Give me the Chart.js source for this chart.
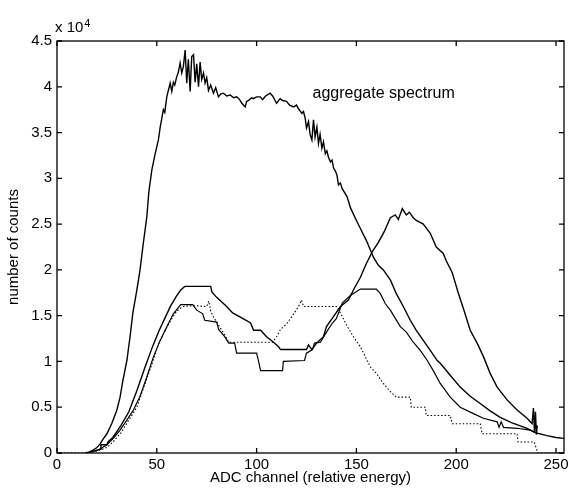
<!DOCTYPE html>
<html>
<head>
<meta charset="utf-8">
<script src="https://cdn.jsdelivr.net/npm/chart.js@4.4.0/dist/chart.umd.min.js"></script>
<style>
    html, body { margin: 0; padding: 0; background: #fff; }
    #contenedor { width: 568px; height: 489px; }
</style>
</head>
<body>
<div id="contenedor"><canvas id="grafico" width="568" height="489"></canvas></div>
<script>
// ticks
const xTicks = [0, 50, 100, 150, 200, 250];
const yTicks = [0, 0.5, 1, 1.5, 2, 2.5, 3, 3.5, 4, 4.5];

// [ADC channel, counts x 10^4]
const agregado = [
    [14, 0], [16, 0.01], [18, 0.03], [20, 0.06], [21.6, 0.1], [23, 0.15], [25, 0.21], [27.4, 0.32],
    [30, 0.47], [31.6, 0.61], [33, 0.79], [35, 1.01], [36.6, 1.27], [38, 1.53], [40, 1.78], [41.6, 2.0],
    [43, 2.25], [45, 2.58], [46, 2.85], [47.5, 3.09], [49, 3.25], [50.8, 3.42], [51.7, 3.56], [53.3, 3.75],
    [54, 3.72], [55, 3.89], [55.8, 3.96], [56.7, 4.04], [57.5, 3.95], [58.3, 4.05], [59, 4.02], [60, 4.11],
    [60.8, 4.16], [61.7, 4.26], [62.5, 4.15], [63.3, 4.22], [64.2, 4.4], [65, 4.04], [65.8, 4.3], [66.7, 3.95],
    [67.5, 4.33], [68.4, 4.35], [69.2, 4.05], [70, 4.25], [70.9, 4.0], [71.7, 4.27], [72.5, 4.08], [73.4, 4.15],
    [74.2, 4.04], [75, 4.1], [75.9, 3.96], [77, 4.02], [78.4, 3.93], [79.5, 3.99], [80.9, 3.89], [82, 3.92],
    [83.4, 3.93], [85, 3.9], [86.8, 3.91], [88.5, 3.88], [90, 3.89], [91.5, 3.86], [92.6, 3.82], [94.3, 3.78],
    [95, 3.84], [96, 3.85], [97.5, 3.88], [98.4, 3.87], [100, 3.89], [101.8, 3.89], [103, 3.86], [104.5, 3.9],
    [106.8, 3.93], [108, 3.9], [110, 3.82], [111.8, 3.87], [113, 3.85], [115, 3.84], [116.5, 3.8], [118.5, 3.78],
    [120, 3.8], [121, 3.76], [122.7, 3.71], [123.5, 3.73], [124.4, 3.65], [125, 3.55], [126, 3.62], [126.8, 3.48],
    [127.7, 3.42], [128.5, 3.64], [129.3, 3.45], [130.2, 3.56], [131, 3.38], [131.8, 3.48], [132.7, 3.33], [133.5, 3.4],
    [134.4, 3.27], [135.2, 3.3], [136, 3.23], [137, 3.18], [137.8, 3.2], [138.6, 3.11], [139.5, 3.08], [140.3, 3.03],
    [141, 2.93], [142, 2.95], [142.8, 2.89], [145.3, 2.8], [147, 2.68], [150, 2.54], [152.5, 2.43], [155, 2.32],
    [158.5, 2.14], [161, 2.05], [163.5, 2.0], [167, 1.89], [170, 1.74], [173.5, 1.6], [177, 1.45], [180, 1.34],
    [183.5, 1.23], [187, 1.12], [190.5, 1.01], [192, 0.98], [197, 0.85], [202, 0.72], [207, 0.62], [212, 0.54],
    [217, 0.46], [222, 0.39], [228, 0.33], [235.5, 0.27], [240, 0.22], [245.5, 0.19], [250, 0.17], [254, 0.16]
];

const detectorA = [
    [15, 0], [18, 0.02], [21.6, 0.04], [22, 0.09], [25, 0.09], [25.5, 0.12], [28, 0.17], [32, 0.3],
    [36, 0.45], [40, 0.68], [44, 0.93], [48, 1.17], [51, 1.33], [54, 1.47], [57, 1.61], [60, 1.72],
    [62, 1.78], [64, 1.82], [77, 1.82], [77.6, 1.76], [80, 1.7], [85, 1.6], [88, 1.53], [93, 1.47],
    [97, 1.42], [98.5, 1.34], [102, 1.34], [105, 1.27], [108.5, 1.21], [111, 1.16], [112, 1.13], [125, 1.13],
    [126, 1.18], [127.7, 1.13], [130, 1.2], [133.5, 1.27], [135, 1.38], [138.5, 1.49], [142, 1.6], [146, 1.67],
    [148.5, 1.78], [152, 1.92], [155, 2.07], [158, 2.2], [161, 2.3], [164, 2.42], [167, 2.57], [169.5, 2.6],
    [171, 2.55], [173, 2.67], [175, 2.6], [176.5, 2.63], [178.5, 2.57], [180, 2.54], [183.5, 2.5], [187, 2.4],
    [190, 2.25], [193.5, 2.18], [195, 2.1], [198, 1.97], [201, 1.75], [204, 1.55], [207, 1.34], [210.5, 1.2],
    [213.7, 1.05], [217, 0.87], [220.5, 0.72], [225.5, 0.58], [230.5, 0.47], [235.5, 0.38], [238, 0.32], [238.7, 0.49],
    [239.2, 0.22], [239.7, 0.45], [240.2, 0.2], [240.6, 0.3]
];

const detectorB = [
    [15, 0], [20, 0.03], [22, 0.05], [25, 0.09], [28.2, 0.16], [31.6, 0.25], [35, 0.36], [38.3, 0.47],
    [41.6, 0.62], [45, 0.83], [48.3, 1.05], [51.7, 1.23], [55, 1.38], [58.3, 1.52], [62, 1.62], [68, 1.62],
    [70, 1.56], [73, 1.52], [74, 1.45], [80, 1.43], [81, 1.35], [84, 1.27], [86, 1.2], [89, 1.2],
    [90, 1.09], [100, 1.09], [101, 1.0], [102, 0.9], [113, 0.9], [113.4, 1.0], [124, 1.01], [125, 1.09],
    [128, 1.13], [129, 1.2], [132, 1.21], [135, 1.32], [138, 1.42], [140, 1.47], [143, 1.64], [147, 1.72],
    [152, 1.79], [160, 1.79], [162, 1.74], [164.5, 1.63], [167, 1.56], [169.5, 1.47], [172, 1.38], [175, 1.32],
    [178.5, 1.21], [182, 1.12], [185.5, 1.01], [188.5, 0.9], [192, 0.76], [197, 0.61], [202, 0.5], [208.6, 0.43],
    [213.6, 0.38], [220.5, 0.34], [221.5, 0.28], [222.5, 0.34], [223.7, 0.28], [230.5, 0.27], [237, 0.25], [240, 0.22]
];

const detectorC = [
    [0, 0], [15, 0], [20, 0.02], [25, 0.06], [28, 0.12], [32, 0.22], [36, 0.36], [40, 0.5],
    [44, 0.75], [48, 1.0], [51, 1.2], [54, 1.33], [57, 1.45], [60, 1.55], [63, 1.6], [68, 1.61],
    [75, 1.6], [76, 1.66], [77, 1.55], [78, 1.5], [80, 1.43], [82, 1.36], [84, 1.29], [86, 1.21],
    [108, 1.21], [110, 1.27], [112, 1.35], [115, 1.41], [118, 1.5], [121, 1.6], [122.5, 1.67], [123.5, 1.6],
    [140, 1.6], [142, 1.53], [145, 1.4], [148.5, 1.27], [152, 1.16], [157, 0.94], [160, 0.87], [163.5, 0.76],
    [167, 0.67], [170, 0.61], [177, 0.61], [177.5, 0.5], [184.5, 0.5], [185, 0.41], [197, 0.41], [198, 0.32],
    [212, 0.32], [213, 0.21], [230.5, 0.21], [231, 0.12], [239, 0.12], [241, 0], [254, 0]
];

// annotation position (channel, counts x 10^4)
const etiqueta = { texto: "aggregate spectrum", x: 128, y: 3.88 };

const fuente = '"Liberation Sans", Arial, Helvetica, sans-serif';

function aPuntos(pares) {
    return pares.map(p => ({ x: p[0], y: p[1] }));
}

function serie(pares, ancho, guiones) {
    return {
        data: aPuntos(pares),
        borderColor: "#000",
        borderWidth: ancho,
        borderDash: guiones,
        pointRadius: 0,
        fill: false,
        tension: 0
    };
}

const marcoPlugin = {
    id: "marco",
    afterDatasetsDraw(chart) {
        const ctx = chart.ctx;
        const a = chart.chartArea;
        const x = chart.scales.x;
        const y = chart.scales.y;

        ctx.save();
        ctx.strokeStyle = "#000";
        ctx.lineWidth = 1.3;
        ctx.strokeRect(a.left, a.top, a.right - a.left, a.bottom - a.top);

        ctx.beginPath();
        xTicks.forEach(v => {
            const px = x.getPixelForValue(v);
            ctx.moveTo(px, a.bottom);
            ctx.lineTo(px, a.bottom - 5);
            ctx.moveTo(px, a.top);
            ctx.lineTo(px, a.top + 5);
        });
        yTicks.forEach(v => {
            const py = y.getPixelForValue(v);
            ctx.moveTo(a.left, py);
            ctx.lineTo(a.left + 5, py);
            ctx.moveTo(a.right, py);
            ctx.lineTo(a.right - 5, py);
        });
        ctx.stroke();

        ctx.fillStyle = "#000";
        ctx.textBaseline = "alphabetic";
        ctx.textAlign = "left";
        ctx.font = "16px " + fuente;
        ctx.fillText(etiqueta.texto, x.getPixelForValue(etiqueta.x), y.getPixelForValue(etiqueta.y));

        // exponent above the y axis
        ctx.font = "15px " + fuente;
        ctx.fillText("x 10", a.left - 2, a.top - 9);
        const w = ctx.measureText("x 10").width;
        ctx.font = "11px " + fuente;
        ctx.fillText("4", a.left - 1 + w, a.top - 14);
        ctx.restore();
    }
};

const ctx = document.getElementById("grafico").getContext("2d");

new Chart(ctx, {
    type: "line",
    data: {
        datasets: [
            serie(agregado, 1.4, []),
            serie(detectorA, 1.4, []),
            serie(detectorB, 1.2, []),
            serie(detectorC, 1.1, [1.5, 2])
        ]
    },
    options: {
        responsive: false,
        animation: false,
        devicePixelRatio: 1,
        layout: { padding: { top: 41, right: 4, left: 0, bottom: 0 } },
        plugins: {
            legend: { display: false },
            tooltip: { enabled: false }
        },
        scales: {
            x: {
                type: "linear",
                min: 0,
                max: 254,
                afterBuildTicks: s => { s.ticks = xTicks.map(v => ({ value: v })); },
                afterFit: s => { s.height = 36; s.paddingLeft = 0; s.paddingRight = 0; },
                grid: { display: false, drawTicks: false },
                border: { display: false },
                ticks: {
                    padding: 3,
                    color: "#000",
                    maxRotation: 0,
                    font: { family: fuente, size: 15 }
                },
                title: {
                    display: true,
                    text: "ADC channel (relative energy)",
                    color: "#000",
                    font: { family: fuente, size: 15 },
                    padding: { top: 0, bottom: 2 }
                }
            },
            y: {
                type: "linear",
                min: 0,
                max: 4.5,
                afterBuildTicks: s => { s.ticks = yTicks.map(v => ({ value: v })); },
                afterFit: s => { s.width = 57; s.paddingTop = 0; s.paddingBottom = 0; },
                grid: { display: false, drawTicks: false },
                border: { display: false },
                ticks: {
                    padding: 5,
                    color: "#000",
                    font: { family: fuente, size: 15 },
                    callback: v => String(v)
                },
                title: {
                    display: true,
                    text: "number of counts",
                    color: "#000",
                    font: { family: fuente, size: 15 },
                    padding: { top: 5, bottom: 0 }
                }
            }
        }
    },
    plugins: [marcoPlugin]
});
</script>
</body>
</html>
